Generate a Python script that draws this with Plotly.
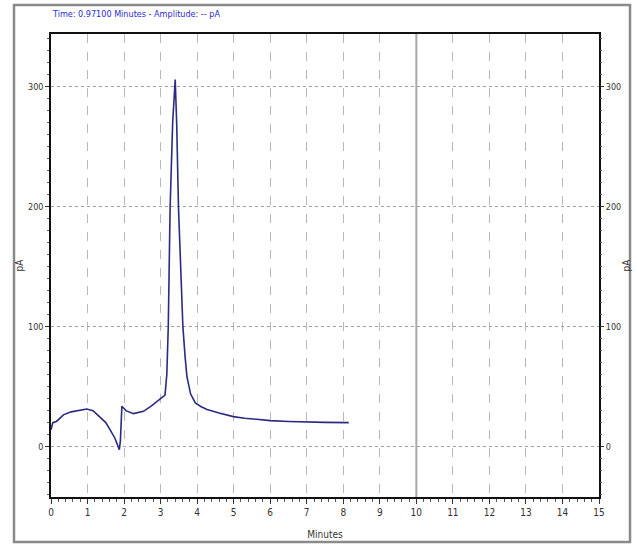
import plotly.graph_objects as go

# Data (minutes, pA)
time_min = [0.00, 0.05, 0.15, 0.34, 0.55, 0.80, 0.98, 1.15, 1.34, 1.50, 1.62, 1.75, 1.87, 1.90,
            1.94, 2.05, 2.26, 2.53, 2.75, 2.90, 3.00, 3.12, 3.17, 3.21, 3.26, 3.33, 3.40, 3.44,
            3.49, 3.55, 3.61, 3.67, 3.72, 3.82, 3.95, 4.10, 4.27, 4.60, 4.99, 5.30, 5.63, 6.00,
            6.50, 7.00, 7.50, 8.15]
current_pa = [14, 20, 21, 26.5, 29, 30.5, 31.4, 30, 25, 20, 14, 7, -2.5, 5,
              33.6, 30, 27.5, 29.4, 34, 37.8, 40, 43, 60, 100, 199, 270, 306, 270,
              199, 150, 100, 75, 58.6, 44, 36.4, 33.5, 31, 28, 25, 23.7, 22.5, 21.7,
              21, 20.5, 20.2, 20]

x_ticks = list(range(0, 16))
y_ticks = [0, 100, 200, 300]
title_text = "Time: 0.97100 Minutes - Amplitude: -- pA"

FONT = "Liberation Sans Narrow, Arial Narrow, DejaVu Sans Condensed, sans-serif"

fig = go.Figure()
fig.add_trace(go.Scatter(x=time_min, y=current_pa, mode="lines",
                         line=dict(color="#2b2b80", width=1.6), showlegend=False))
# invisible trace for right axis
fig.add_trace(go.Scatter(x=[0], y=[0], yaxis="y2", mode="markers",
                         marker=dict(opacity=0), showlegend=False, hoverinfo="skip"))

fig.update_layout(
    width=637, height=545,
    margin=dict(l=51, r=38, t=34, b=48),
    paper_bgcolor="white", plot_bgcolor="white",
    font=dict(family=FONT, size=10, color="#333"),
    xaxis=dict(range=[0, 15], tickvals=x_ticks, showgrid=True, gridcolor="#b8b8b8",
               griddash="dash", gridwidth=1, zeroline=False, automargin=False,
               showline=True, linecolor="#111", linewidth=2, mirror=True,
               ticks="outside", ticklen=5, tickcolor="#333",
               minor=dict(dtick=0.2, ticks="outside", ticklen=3, tickcolor="#555", showgrid=False),
               title=dict(text="Minutes", font=dict(size=10), standoff=14),
               tickfont=dict(size=10)),
    yaxis=dict(range=[-42, 344], tickvals=y_ticks, showgrid=True, gridcolor="#a0a0a0",
               griddash="dot", gridwidth=1, zeroline=False, automargin=False,
               showline=True, linecolor="#111", linewidth=1.5, mirror=True,
               ticks="outside", ticklen=4, tickcolor="#333",
               minor=dict(dtick=10, ticks="outside", ticklen=2, tickcolor="#555", showgrid=False),
               title=dict(text="pA", font=dict(size=10), standoff=2),
               tickfont=dict(size=9)),
    yaxis2=dict(range=[-42, 344], tickvals=y_ticks, overlaying="y", side="right",
                showgrid=False, zeroline=False, showline=False, automargin=False,
                ticks="outside", ticklen=4, tickcolor="#333",
                minor=dict(dtick=10, ticks="outside", ticklen=2, tickcolor="#555"),
                title=dict(text="pA", font=dict(size=10), standoff=2),
                tickfont=dict(size=9)),
)

# solid vertical marker line at 10 minutes
fig.add_vline(x=10, line=dict(color="#a8a8a8", width=2))

# outer frame
fig.add_shape(type="rect", xref="paper", yref="paper",
              x0=-0.0675, x1=1.0566, y0=-0.0972, y1=1.0626,
              line=dict(color="#8a8a8a", width=2.5), layer="below")

fig.add_annotation(text=title_text, xref="paper", yref="paper", x=-0.002, y=1.058,
                   xanchor="left", yanchor="top", showarrow=False,
                   font=dict(family=FONT, size=9, color="#2a2ad0"))

fig.write_html("out.html")
